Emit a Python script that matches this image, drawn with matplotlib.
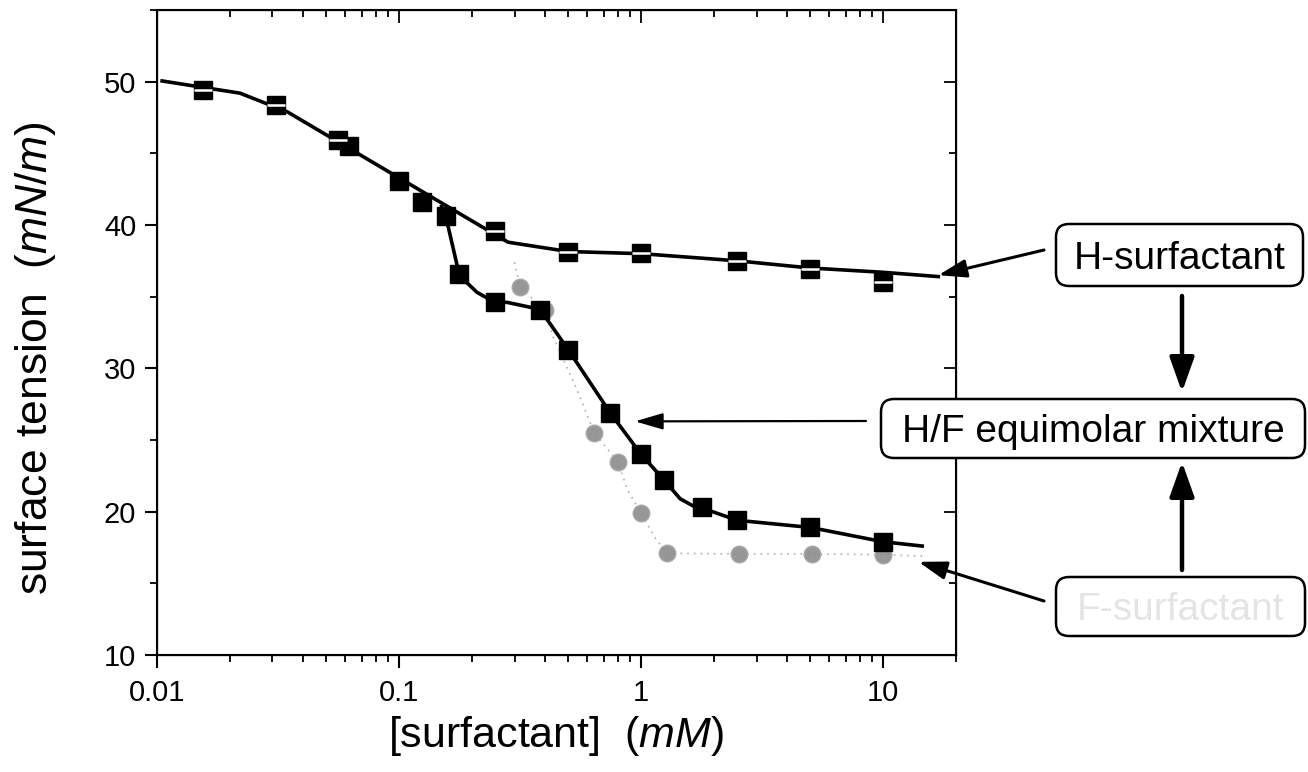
import matplotlib
matplotlib.use("Agg")
import matplotlib.pyplot as plt
from matplotlib.patches import FancyBboxPatch
from matplotlib.transforms import IdentityTransform
from matplotlib.ticker import LogLocator, MultipleLocator, FixedLocator, NullFormatter, FixedFormatter

plt.rcParams['font.family'] = ['Liberation Sans', 'DejaVu Sans']
plt.rcParams['mathtext.fontset'] = 'custom'
plt.rcParams['mathtext.rm'] = 'Liberation Sans'
plt.rcParams['mathtext.it'] = 'Liberation Sans:italic'

# ---- measured surface tension (mN/m) vs concentration (mM) ----
h_conc = [0.0155, 0.031, 0.056, 0.25, 0.5, 1.0, 2.5, 5.0, 10.0]
h_tension = [49.4, 48.4, 45.9, 39.6, 38.1, 38.05, 37.5, 36.95, 36.0]

mix_conc = [0.062, 0.1, 0.124, 0.156, 0.177, 0.249, 0.383, 0.5, 0.745,
            1.0, 1.245, 1.79, 2.49, 5.0, 10.0]
mix_tension = [45.5, 43.1, 41.6, 40.6, 36.6, 34.6, 34.1, 31.3, 26.9,
               24.0, 22.2, 20.3, 19.4, 18.9, 17.9]

f_conc = [0.316, 0.40, 0.64, 0.80, 1.0, 1.28, 2.54, 5.1, 10.0]
f_tension = [35.7, 34.1, 25.5, 23.5, 19.9, 17.1, 17.05, 17.05, 17.0]

# ---- fitted guide curves ----
h_fit_x = [0.0105, 0.0155, 0.022, 0.0345, 0.282, 0.5, 1.0, 2.5, 5.0, 10.0, 16.9]
h_fit_y = [50.05, 49.6, 49.2, 47.9, 38.8, 38.15, 38.0, 37.5, 37.0, 36.7, 36.4]

mix_fit_x = [0.15, 0.156, 0.177, 0.19, 0.21, 0.249, 0.28, 0.34, 0.383, 0.5,
             0.745, 1.0, 1.245, 1.45, 1.64, 1.79, 2.49, 5.0, 10.0, 14.5]
mix_fit_y = [41.3, 40.6, 36.6, 36.0, 35.3, 34.6, 34.6, 34.3, 34.1, 31.3,
             26.9, 24.0, 22.2, 20.9, 20.4, 20.25, 19.4, 18.9, 17.9, 17.6]

f_fit_x = [0.30, 0.316, 0.40, 0.433, 0.544, 0.64, 0.80, 0.88, 1.0, 1.14, 1.28, 2.5, 5.0, 10.0, 14.5]
f_fit_y = [37.4, 35.7, 34.0, 32.2, 28.5, 25.5, 23.5, 21.5, 19.9, 18.2, 17.1, 17.05, 17.05, 17.0, 16.9]

x_major = [0.01, 0.1, 1, 10]
x_major_labels = ['0.01', '0.1', '1', '10']
y_major = [10, 20, 30, 40, 50]

W, H = 1308, 772
fig = plt.figure(figsize=(W / 100, H / 100), dpi=100)
ax = fig.add_axes([157 / W, 1 - 655 / H, (956 - 157) / W, (655 - 10) / H])

ax.set_xscale('log')
ax.set_xlim(0.01, 20)
ax.set_ylim(10, 55)

# guide curves
ax.plot(f_fit_x, f_fit_y, color='#b0b0b0', lw=1.2, ls=(0, (1, 3)), zorder=2)
ax.plot(h_fit_x, h_fit_y, color='black', lw=2.6, zorder=3)
ax.plot(mix_fit_x, mix_fit_y, color='black', lw=2.6, zorder=3)

# data points
ax.plot(f_conc, f_tension, ls='none', marker='o', ms=12, color='#8c8c8c',
        mec='#a8a8a8', alpha=0.9, zorder=2)
ax.plot(mix_conc, mix_tension, ls='none', marker='s', ms=13.5, color='black', zorder=4)
ax.plot(h_conc, h_tension, ls='none', marker='s', ms=13.5, color='black', zorder=4)
ax.plot(h_conc, h_tension, ls='none', marker='_', ms=13.5, mew=1.8, color='white', zorder=5)

# axis styling: outward ticks on left/bottom, inward mirrored ticks on top/right
for s in ax.spines.values():
    s.set_linewidth(1.5)
ax.xaxis.set_major_locator(FixedLocator(x_major))
ax.xaxis.set_major_formatter(FixedFormatter(x_major_labels))
ax.xaxis.set_minor_locator(LogLocator(base=10, subs=range(2, 10), numticks=20))
ax.xaxis.set_minor_formatter(NullFormatter())
ax.yaxis.set_major_locator(FixedLocator(y_major))
ax.yaxis.set_minor_locator(MultipleLocator(5))
ax.tick_params(which='major', direction='out', length=9, width=1.5, labelsize=21, pad=6)
ax.tick_params(which='minor', direction='out', length=5, width=1.3)
ax.tick_params(axis='x', which='major', pad=8)

axt = ax.twiny()
axt.set_xscale('log')
axt.set_xlim(ax.get_xlim())
axt.xaxis.set_major_locator(FixedLocator(x_major))
axt.xaxis.set_minor_locator(LogLocator(base=10, subs=range(2, 10), numticks=20))
axt.tick_params(which='both', direction='in', labeltop=False, width=1.3)
axt.tick_params(which='major', length=9)
axt.tick_params(which='minor', length=5)

axr = ax.twinx()
axr.set_ylim(ax.get_ylim())
axr.yaxis.set_major_locator(FixedLocator(y_major))
axr.yaxis.set_minor_locator(MultipleLocator(5))
axr.tick_params(which='both', direction='in', labelright=False, width=1.3)
axr.tick_params(which='major', length=9)
axr.tick_params(which='minor', length=5)

ax.set_xlabel('[surfactant]  $\\mathit{(mM)}$', fontsize=31, labelpad=5)
ax.set_ylabel('surface tension  $\\mathit{(mN/m)}$', fontsize=32, va='center')
ax.yaxis.set_label_coords((36 - 157) / (956 - 157), 0.46)

# labelled boxes (pixel coordinates, origin top-left converted to display)
def box(x0, y0, x1, y1, text, color='black'):
    patch = FancyBboxPatch((x0, H - y1), x1 - x0, y1 - y0,
                           boxstyle='round,pad=0,rounding_size=13',
                           transform=IdentityTransform(), fc='white',
                           ec='black', lw=1.8, zorder=10)
    fig.add_artist(patch)
    fig.text((x0 + x1) / 2 / W, 1 - (y0 + y1) / 2 / H, text, ha='center',
             va='center_baseline', fontsize=28, color=color, zorder=11)

box(1056, 224, 1303, 286, 'H-surfactant')
box(881, 399, 1305, 458, 'H/F equimolar mixture')
box(1056, 577, 1305, 636, 'F-surfactant', color='#e4e4e4')

def arrow(xy, xycoords, tail_px, lw, hl, hw):
    ax.annotate('', xy=xy, xycoords=xycoords,
                xytext=(tail_px[0] / W, 1 - tail_px[1] / H),
                textcoords='figure fraction', annotation_clip=False,
                arrowprops=dict(arrowstyle='-|>,head_length=%g,head_width=%g' % (hl, hw),
                                mutation_scale=1, lw=lw, color='black',
                                shrinkA=0, shrinkB=0))

arrow((16.9, 36.5), 'data', (1044, 250), 2.2, 17, 5.5)
arrow((0.944, 26.3), 'data', (866, 421), 1.6, 17, 5)
arrow((14.0, 16.5), 'data', (1044, 601), 2.2, 17, 5.5)
arrow((1182 / W, 1 - 392 / H), 'figure fraction', (1182, 296), 3.2, 21, 7.5)
arrow((1182 / W, 1 - 462 / H), 'figure fraction', (1182, 570), 3.2, 21, 7.5)

fig.savefig('out.png', dpi=100)
